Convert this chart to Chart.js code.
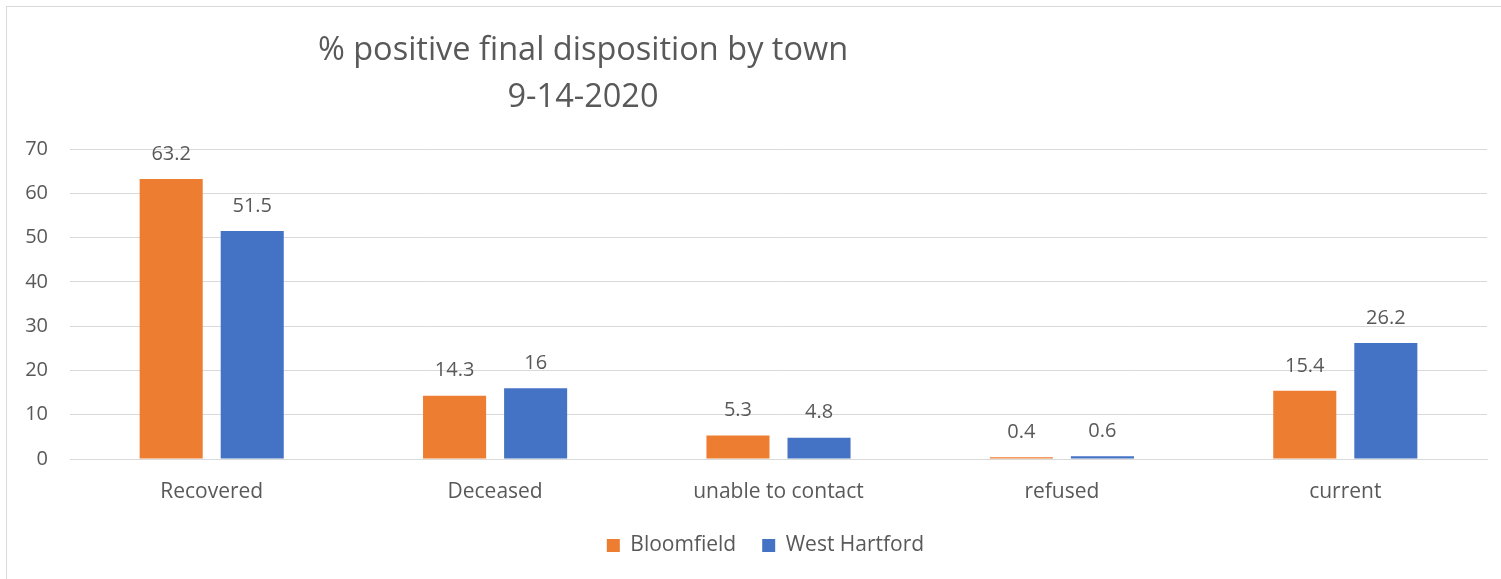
<!DOCTYPE html>
<html>
<head>
<meta charset="utf-8">
<script src="https://cdn.jsdelivr.net/npm/chart.js@4.4.1/dist/chart.umd.min.js"></script>
<style>
  html, body { margin: 0; padding: 0; background: #fff; overflow: hidden; }
  #wrap { position: relative; width: 1501px; height: 579px; }
  #frame { position: absolute; left: 6px; top: 6px; width: 1520px; height: 600px; border: 1px solid #d9d9d9; box-sizing: border-box; pointer-events: none; }
  canvas { position: absolute; left: 0; top: 0; }
</style>
</head>
<body>
<div id="wrap">
  <div id="frame"></div>
  <canvas id="chart" width="1501" height="579"></canvas>
</div>
<script>
// % positive final disposition by town — 9-14-2020
const CATEGORIAS = ['Recovered', 'Deceased', 'unable to contact', 'refused', 'current'];
const BLOOMFIELD = [63.2, 14.3, 5.3, 0.4, 15.4];
const WEST_HARTFORD = [51.5, 16, 4.8, 0.6, 26.2];
const Y_TICKS = [0, 10, 20, 30, 40, 50, 60, 70];
const TITULO = ['% positive final disposition by town', '9-14-2020'];

const FONTE = "'Open Sans', 'Noto Sans', sans-serif";
const TXT = '#595959';

// largura do maior rótulo do eixo y (pra alinhar à direita em x=48 com mirror)
const mctx = document.createElement('canvas').getContext('2d');
mctx.font = '20px ' + FONTE;
const LARG_Y = Math.max(...Y_TICKS.map(v => mctx.measureText(String(v)).width));

// título desenhado à mão (fica deslocado à esquerda como no original)
const tituloPlugin = {
  id: 'tituloManual',
  afterDraw(chart) {
    const ctx = chart.ctx;
    ctx.save();
    ctx.fillStyle = TXT;
    ctx.font = '32.5px ' + FONTE;
    ctx.textAlign = 'center';
    ctx.textBaseline = 'middle';
    ctx.fillText(TITULO[0], 583, 51);
    ctx.fillText(TITULO[1], 583, 98);
    ctx.restore();
  }
};

// rótulos de valor em cima das barras
const rotulosPlugin = {
  id: 'rotulos',
  afterDatasetsDraw(chart) {
    const ctx = chart.ctx;
    ctx.save();
    ctx.fillStyle = TXT;
    ctx.font = '20px ' + FONTE;
    ctx.textAlign = 'center';
    ctx.textBaseline = 'middle';
    chart.data.datasets.forEach((ds, i) => {
      chart.getDatasetMeta(i).data.forEach((bar, j) => {
        ctx.fillText(String(ds.data[j]), bar.x, bar.y - 25);
      });
    });
    ctx.restore();
  }
};

new Chart(document.getElementById('chart'), {
  type: 'bar',
  data: {
    labels: CATEGORIAS,
    datasets: [
      { label: 'Bloomfield', data: BLOOMFIELD, backgroundColor: '#ED7D31' },
      { label: 'West Hartford', data: WEST_HARTFORD, backgroundColor: '#4472C4' }
    ]
  },
  options: {
    responsive: false,
    animation: false,
    devicePixelRatio: 1,
    datasets: { bar: { categoryPercentage: 0.572, barPercentage: 0.778 } },
    // padding esquerdo + largura do eixo y = 70 (início da área do gráfico); centraliza a legenda como no original
    layout: { padding: { top: 149, right: 14, bottom: 13, left: 44 } },
    plugins: {
      title: { display: false },
      tooltip: { enabled: false },
      legend: {
        position: 'bottom',
        labels: { color: TXT, font: { family: FONTE, size: 21 }, boxWidth: 13, boxHeight: 13, padding: 26 }
      }
    },
    scales: {
      x: {
        grid: { display: false },
        border: { color: '#d9d9d9', width: 1 },
        ticks: { color: TXT, font: { family: FONTE, size: 21 }, padding: 12, maxRotation: 0 },
        afterFit: s => { s.height = 50; }
      },
      y: {
        min: 0, max: 70,
        afterBuildTicks: s => { s.ticks = Y_TICKS.map(v => ({ value: v })); },
        grid: { color: '#d9d9d9', drawTicks: false, lineWidth: 1 },
        border: { display: false },
        // mirror evita o recorte dos rótulos; crossAlign far = alinhado à direita
        ticks: { color: TXT, font: { family: FONTE, size: 20 }, mirror: true, crossAlign: 'far', padding: -22 - LARG_Y },
        afterFit: s => { s.width = 26; }
      }
    }
  },
  plugins: [tituloPlugin, rotulosPlugin]
});
</script>
</body>
</html>
